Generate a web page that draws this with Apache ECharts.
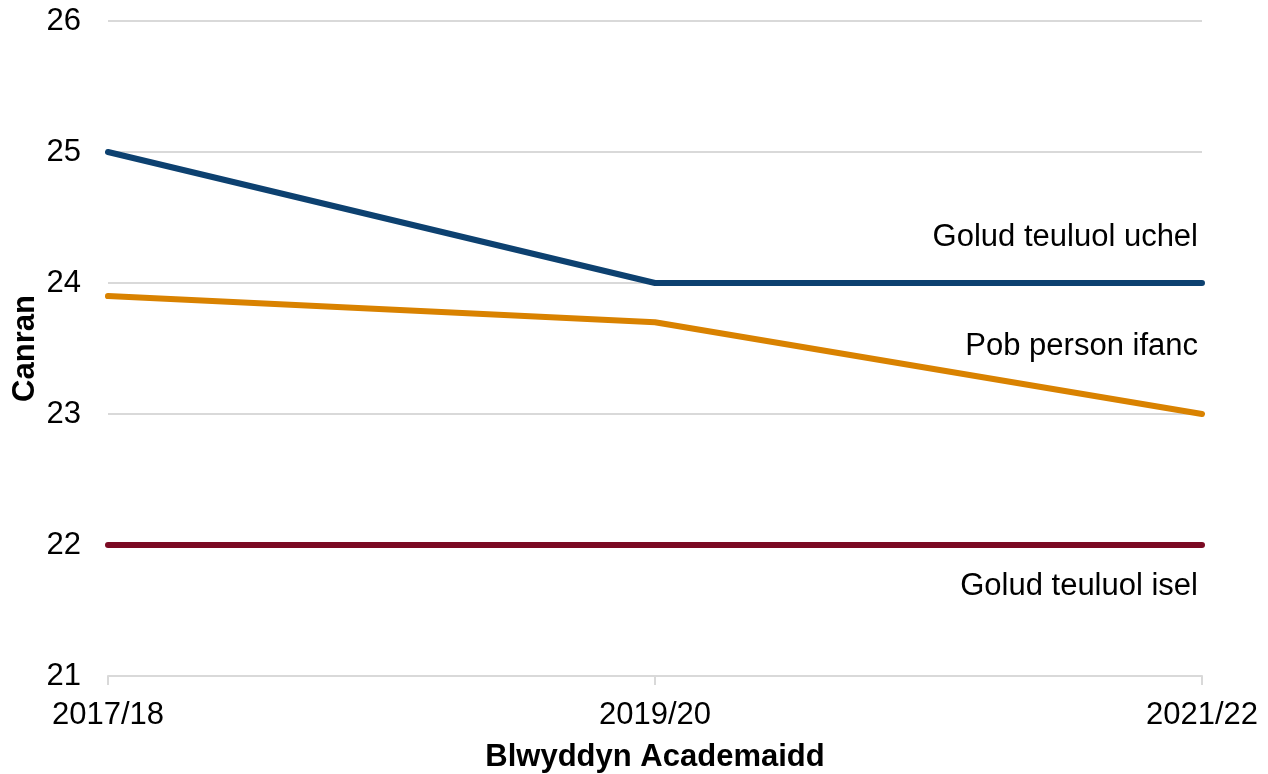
<!DOCTYPE html>
<html>
<head>
<meta charset="utf-8">
<script src="https://cdn.jsdelivr.net/npm/echarts@6/dist/echarts.min.js"></script>
<style>
  html, body { margin: 0; padding: 0; background: #fff; }
  #chart { width: 1268px; height: 774px; }
</style>
</head>
<body>
<div id="chart"></div>
<script>
const years = ["2017/18", "2019/20", "2021/22"];
const seriesNames = ["Golud teuluol uchel", "Pob person ifanc", "Golud teuluol isel"];
const uchel = [25, 24, 24];
const pobPerson = [23.9, 23.7, 23.0];
const isel = [22, 22, 22];
const colors = ["#0d4170", "#d98200", "#7b0a23"];
// where each name sits relative to the line's last point
const labelShift = [[-4, -46], [-4, -68], [-4, 41]];

const chart = echarts.init(document.getElementById("chart"));
const font = "'Liberation Sans', Arial, sans-serif";

const makeSeries = (name, data, i) => ({
  name,
  type: "line",
  data,
  symbol: "circle",
  symbolSize: 0,
  showSymbol: true,
  lineStyle: { color: colors[i], width: 6, cap: "round", join: "round" },
  itemStyle: { color: colors[i] },
  label: {
    show: true,
    position: "inside",
    align: "right",
    verticalAlign: "middle",
    offset: labelShift[i],
    fontFamily: font,
    fontSize: 31,
    color: "#000",
    formatter: (p) => (p.dataIndex === data.length - 1 ? name : ""),
  },
  emphasis: { disabled: true },
  z: 3 - i,
});

chart.setOption({
  animation: false,
  grid: { left: 108, right: 66, top: 21, bottom: 98, outerBoundsMode: "none", containLabel: false },
  xAxis: {
    type: "category",
    data: years,
    boundaryGap: false,
    name: "Blwyddyn Academaidd",
    nameLocation: "middle",
    nameGap: 66,
    nameMoveOverlap: false,
    nameTextStyle: { fontFamily: font, fontSize: 31, fontWeight: "bold", color: "#000" },
    axisLine: { lineStyle: { color: "#d9d9d9", width: 2 } },
    axisTick: { show: true, length: 9, lineStyle: { color: "#d9d9d9", width: 2 } },
    axisLabel: { fontFamily: font, fontSize: 31, color: "#000", margin: 24 },
    splitLine: { show: false },
  },
  yAxis: {
    type: "value",
    min: 21,
    max: 26,
    interval: 1,
    name: "Canran",
    nameLocation: "middle",
    nameGap: 67,
    nameMoveOverlap: false,
    nameTextStyle: { fontFamily: font, fontSize: 31, fontWeight: "bold", color: "#000" },
    axisLine: { show: false },
    axisTick: { show: false },
    axisLabel: { fontFamily: font, fontSize: 31, color: "#000", margin: 27 },
    splitLine: { lineStyle: { color: "#d9d9d9", width: 2 } },
  },
  series: [
    makeSeries(seriesNames[0], uchel, 0),
    makeSeries(seriesNames[1], pobPerson, 1),
    makeSeries(seriesNames[2], isel, 2),
  ],
});
</script>
</body>
</html>
